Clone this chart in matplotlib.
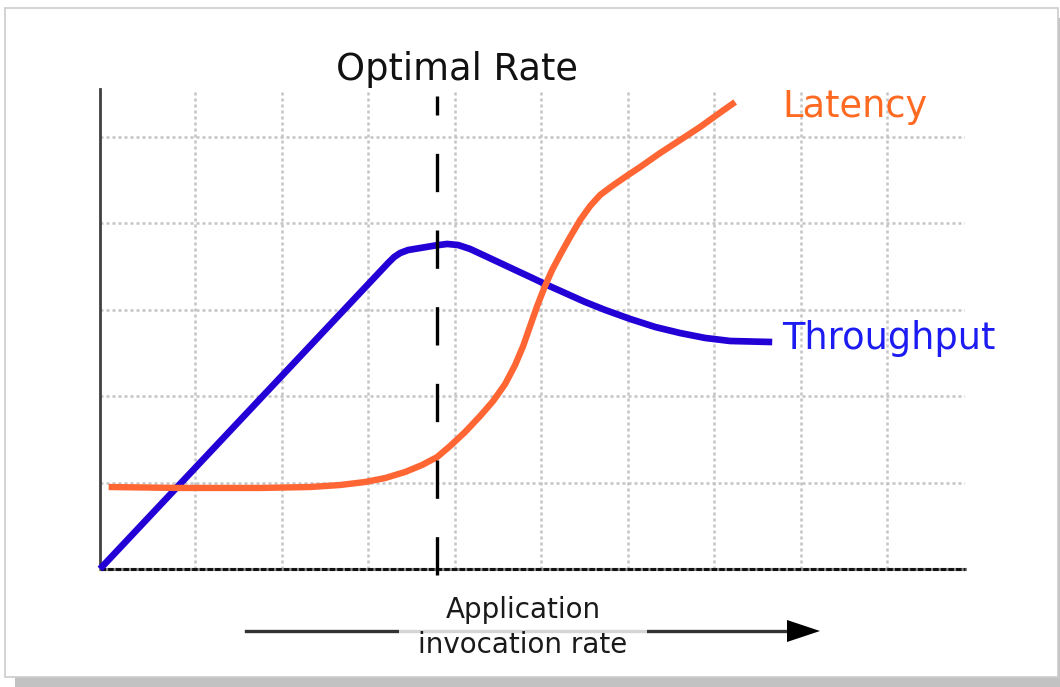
import matplotlib
matplotlib.use("Agg")
import matplotlib.pyplot as plt
from matplotlib.patches import Rectangle, Polygon

W, H = 1060, 687

# x: one grid cell = 1 unit (grid lines at 1..9, y axis sits at -0.1)
# y: one grid cell = 1 unit, 0 at the bottom axis
throughput_x = [-0.10, 3.231, 3.301, 3.370, 3.462, 3.601, 3.775, 3.913, 4.040,
                4.179, 4.353, 4.526, 4.699, 4.873, 5.069, 5.277, 5.509, 5.740,
                6.029, 6.318, 6.607, 6.896, 7.185, 7.671]
throughput_y = [0.00, 3.542, 3.611, 3.657, 3.692, 3.715, 3.744, 3.762, 3.750,
                3.704, 3.623, 3.542, 3.461, 3.380, 3.287, 3.194, 3.090, 2.998,
                2.894, 2.801, 2.731, 2.674, 2.639, 2.627]

latency_x = [0.00, 0.827, 1.751, 2.329, 2.676, 2.965, 3.197, 3.428, 3.624, 3.798,
             3.948, 4.121, 4.295, 4.445, 4.584, 4.699, 4.792, 4.873, 4.954, 5.035,
             5.127, 5.231, 5.335, 5.451, 5.566, 5.682, 5.821, 5.971, 6.145, 6.376,
             6.607, 6.838, 7.046, 7.243]
latency_y = [0.949, 0.938, 0.938, 0.949, 0.972, 1.007, 1.053, 1.123, 1.204, 1.296,
             1.424, 1.586, 1.771, 1.944, 2.141, 2.361, 2.581, 2.813, 3.044, 3.252,
             3.461, 3.657, 3.843, 4.039, 4.201, 4.329, 4.433, 4.537, 4.653, 4.815,
             4.965, 5.116, 5.266, 5.405]

optimal_rate = 3.80
grid_x = [1, 2, 3, 4, 5, 6, 7, 8, 9]
grid_y = [1, 2, 3, 4, 5]

BLUE = "#2200d6"
ORANGE = "#ff6633"


def px(x, y):
    """pixel position (from top-left) -> figure fraction"""
    return x / W, 1 - y / H


fig = plt.figure(figsize=(W / 100, H / 100), dpi=100)

# card with drop shadow
fig.patches.append(Rectangle(px(15, 687), 1045 / W, 669 / H, transform=fig.transFigure,
                             facecolor="#c2c2c2", edgecolor="none", zorder=-2))
fig.patches.append(Rectangle(px(5, 677), 1053 / W, 669 / H, transform=fig.transFigure,
                             facecolor="white", edgecolor="#cccccc", lw=1.2, zorder=-1))

ax = fig.add_axes([100 / W, (H - 569) / H, 865 / W, 480 / H])
ax.set_zorder(1)
ax.set_xlim(-0.10, 9.90)
ax.set_ylim(0, 480 / 86.4)
ax.patch.set_visible(False)
ax.set_xticks(grid_x)
ax.set_yticks(grid_y)
ax.tick_params(length=0, labelbottom=False, labelleft=False)
ax.grid(True, color="#c4c4c4", lw=1.8, dashes=(1.2, 1.2))
ax.set_axisbelow(True)
for s in ("top", "right", "bottom"):
    ax.spines[s].set_visible(False)
ax.spines["left"].set_color("#404040")
ax.spines["left"].set_linewidth(2)

# dotted x axis
ax.axhline(0, color="#8a8a8a", lw=2.2, clip_on=False, zorder=3)
ax.axhline(0, color="#111111", lw=2.2, dashes=(1.8, 0.7), clip_on=False, zorder=3)

ax.plot(throughput_x, throughput_y, color=BLUE, lw=4.8, solid_capstyle="butt",
        solid_joinstyle="round", clip_on=False, zorder=4)
ax.plot(latency_x, latency_y, color=ORANGE, lw=4.6, solid_capstyle="butt",
        solid_joinstyle="round", clip_on=False, zorder=5)
ax.plot([optimal_rate, optimal_rate], [-0.07, 5.47], color="black", lw=2.4,
        dashes=(11.5, 11.5), dash_capstyle="butt", clip_on=False, zorder=6)

fig.text(*px(457, 80), "Optimal Rate", fontsize=26.5, color="#111111",
         ha="center", va="baseline")
fig.text(*px(782, 117), "Latency", fontsize=26.5, color="#ff6a22",
         ha="left", va="baseline")
fig.text(*px(782, 349), "Throughput", fontsize=26.5, color="#1c1cf2",
         ha="left", va="baseline")

# x-axis caption with arrow
fig.add_artist(plt.Line2D([246 / W, 790 / W], [1 - 631 / H] * 2, color="#333333",
                          lw=2.4, transform=fig.transFigure, zorder=2))
fig.patches.append(Polygon([px(787, 620), px(820, 631), px(787, 642)], closed=True,
                           transform=fig.transFigure, facecolor="black",
                           edgecolor="none", zorder=3))
fig.patches.append(Rectangle(px(399, 665), 248 / W, 65 / H, transform=fig.transFigure,
                             facecolor="white", edgecolor="none", alpha=0.8, zorder=4))
fig.text(*px(523, 618), "Application", fontsize=20, color="#1a1a1a",
         ha="center", va="baseline", zorder=5)
fig.text(*px(523, 653), "invocation rate", fontsize=20, color="#1a1a1a",
         ha="center", va="baseline", zorder=5)

fig.savefig("out.png", dpi=100)
